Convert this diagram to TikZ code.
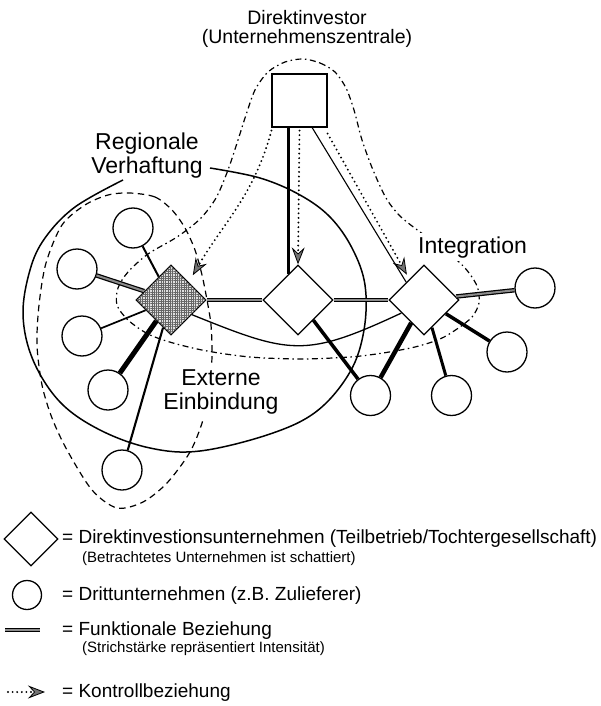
\documentclass[tikz,border=0pt]{standalone}
\usepackage{fontspec}
\setmainfont{Liberation Sans}
\usetikzlibrary{shapes.geometric,arrows.meta,patterns.meta}

\begin{document}
\begin{tikzpicture}[x=1pt,y=-1pt,
  firm/.style={circle,draw,line width=1.3pt,fill=white,minimum size=40pt,inner sep=0pt},
  unit/.style={diamond,draw,line width=1.3pt,fill=white,minimum size=70pt,inner sep=0pt},
  shaded/.style={unit,fill=black!12,
    postaction={pattern={Lines[angle=0,distance=2.3pt,line width=0.5pt]},pattern color=black!60},
    postaction={pattern={Lines[angle=90,distance=2.3pt,line width=0.5pt]},pattern color=black!60}},
  headquarters/.style={draw,line width=1.1pt,fill=white,minimum width=55pt,minimum height=53pt,inner sep=0pt},
  fx/.style={line width=#1,postaction={draw=black!45,line width=0.45*#1}},
  ctrl/.style={line width=2.1pt,line cap=round,dash pattern=on 0pt off 4.6pt,
    -{Stealth[length=17pt,width=13pt,inset=6pt,fill=black!55,line width=0.8pt]}},
  region/.style={line width=1.5pt},
  extern/.style={line width=1.2pt,dash pattern=on 6.5pt off 4.5pt},
  integ/.style={line width=1.2pt,dash pattern=on 6pt off 3.5pt on 1.5pt off 3.5pt},
  biglabel/.style={font=\fontsize{23}{24}\selectfont,align=center,inner sep=0pt},
  toplabel/.style={font=\fontsize{19.5}{18.5}\selectfont,align=center,inner sep=0pt},
  legend/.style={font=\fontsize{19}{20}\selectfont,anchor=base west,inner sep=0pt},
  note/.style={font=\fontsize{15}{16}\selectfont,anchor=base west,inner sep=0pt}
]
\fill[white] (0,0) rectangle (600,706);
\useasboundingbox (0,0) rectangle (600,706);

% regional embedding (solid), external integration (dashed), corporate integration (dash-dot)
\draw[region] plot[smooth,tension=0.6] coordinates {
  (210,168) (260,178) (300,195) (330,217) (352,248) (365,285) (364,330)
  (350,372) (317,411) (270,434) (200,451) (150,448) (100,430) (60,402)
  (33,360) (23,315) (30,270) (45,238) (75,207) (123,180)};
\draw[extern] plot[smooth cycle] coordinates {
  (130,193) (155,197) (172,210) (185,228) (195,250) (202,275) (207,300)
  (211,325) (212,357) (209,390) (203,420) (190,452) (167,483) (143,502)
  (117,508) (92,490) (67,450) (52,418) (42,385) (37,345) (39,305)
  (46,263) (62,225) (85,205) (108,195)};
\draw[integ] plot[smooth cycle] coordinates {
  (303,59) (320,63) (335,72) (346,88) (354,110) (362,140) (373,170)
  (386,198) (400,216) (420,232) (445,250) (465,268) (477,286) (479,303)
  (472,317) (457,329) (440,339) (415,347) (383,353) (350,357) (300,359)
  (250,357) (207,351) (173,343) (148,334) (128,320) (117,305) (118,288)
  (128,272) (148,254) (177,237) (200,219) (216,198) (228,170) (238,140)
  (246,115) (255,90) (268,72) (285,62)};

% firms
\node[headquarters] (sq) at (299.5,100.5) {};
\node[shaded] (sd) at (171,300) {};
\node[unit] (m1) at (298,300) {};
\node[unit] (r2) at (424,300) {};
\node[firm] (c1) at (133,228) {};
\node[firm] (c2) at (77,269) {};
\node[firm] (c3) at (82,336) {};
\node[firm] (c4) at (108,390) {};
\node[firm] (c5) at (122,470) {};
\node[firm] (c6) at (370.5,395.5) {};
\node[firm] (c7) at (451.5,395.5) {};
\node[firm] (c8) at (507,352) {};
\node[firm] (c9) at (535,288) {};

% functional relations
\draw[line width=2pt] (sd) -- (c1);
\draw[fx=4.5pt] (sd) -- (c2);
\draw[line width=1.7pt] (sd) -- (c3);
\draw[line width=5pt] (sd) -- (c4);
\draw[line width=2.1pt] (sd) -- (c5);
\draw[fx=3.5pt] (sd.east) -- (m1.west);
\draw[fx=3.5pt] (m1.east) -- (r2.west);
\draw[line width=3.5pt] (m1) -- (c6);
\draw[line width=4.5pt] (r2) -- (c6);
\draw[line width=3pt] (r2) -- (c7);
\draw[line width=3.5pt] (r2) -- (c8);
\draw[fx=4.5pt] (r2) -- (c9);
\draw[line width=3.5pt] (m1.110) -- (m1.110 |- sq.south);
\draw[line width=1.1pt] (sq.-65) -- (r2.135);
\draw[line width=1.3pt] (sd.-35) to[out=-22,in=-155,looseness=1.3] (r2.-150);

% control relations
\draw[ctrl] ([yshift=-3pt]sq.south) -- (m1.north);
\draw[ctrl,shorten >=5pt] ([yshift=-6pt]sq.south east) -- (r2.125);
\draw[ctrl,shorten >=8pt] ([yshift=-3pt]sq.south west) to[out=-105,in=60] (sd.45);

% labels
\node[toplabel] (investor) at (307,29) {Direktinvestor\\(Unternehmenszentrale)};
\node[biglabel] (regional) at (147,156) {Regionale\\Verhaftung};
\node[biglabel,fill=white,inner sep=4pt] (external) at (221,392) {Externe\\Einbindung};
\node[biglabel,fill=white,inner sep=3pt,anchor=base west] (integration) at (415,253) {Integration};

% legend
\node[unit,minimum size=54pt] (lgunit) at (31,539) {};
\node[firm,minimum size=29pt] (lgfirm) at (27,595) {};
\coordinate (lf1) at (5,630);
\coordinate (lf2) at (40,630);
\draw[fx=4pt] (lf1) -- (lf2);
\coordinate (lc1) at (8,692);
\coordinate (lc2) at (45,692);
\draw[ctrl] (lc1) -- (lc2);

\node[legend] (t1) at (62,543) {= Direktinvestionsunternehmen (Teilbetrieb/Tochtergesellschaft)};
\node[note] (t1n) at (82,562) {(Betrachtetes Unternehmen ist schattiert)};
\node[legend] (t2) at (62,600) {= Drittunternehmen (z.B. Zulieferer)};
\node[legend] (t3) at (62,635) {= Funktionale Beziehung};
\node[note] (t3n) at (82,652) {(Strichstärke repräsentiert Intensität)};
\node[legend] (t4) at (62,697) {= Kontrollbeziehung};
\end{tikzpicture}
\end{document}
